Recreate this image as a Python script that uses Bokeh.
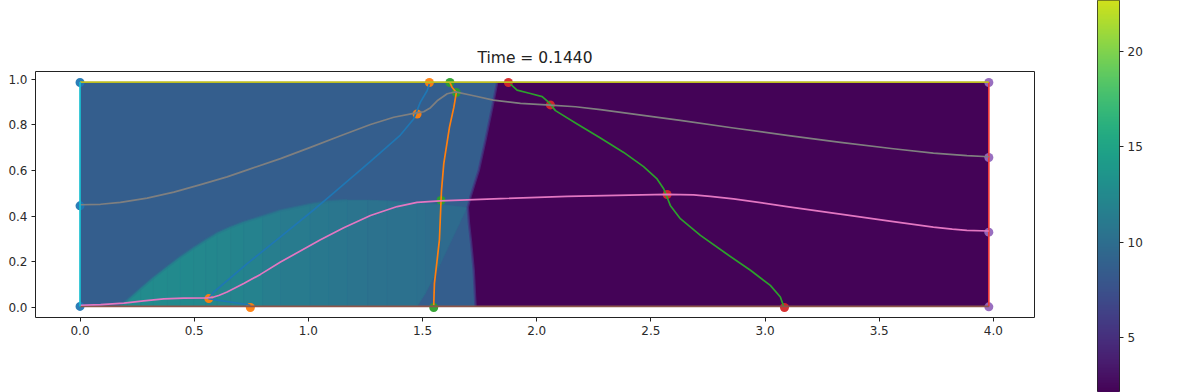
from bokeh.embed import file_html
from bokeh.resources import INLINE
from bokeh.plotting import figure
from bokeh.layouts import row, column
from bokeh.models import FixedTicker, LinearColorMapper, Range1d
from bokeh.palettes import Viridis256
import numpy as np

# ---- data ----
title_text = "Time = 0.1440"
x_ticks = [0.0, 0.5, 1.0, 1.5, 2.0, 2.5, 3.0, 3.5, 4.0]
y_ticks = [0.0, 0.2, 0.4, 0.6, 0.8, 1.0]
cb_ticks = [5, 10, 15, 20]
v_min, v_max = 2.0, 24.2

# field regions
dom_x = [0.0, 3.98]
dom_y = [0.005, 0.987]
field_blue = 8.7
purple_x = [1.827, 1.805, 1.775, 1.746, 1.724, 1.71, 1.698, 1.703, 1.712, 1.724, 1.732, 3.98, 3.98]
purple_y = [0.987, 0.876, 0.731, 0.60, 0.53, 0.485, 0.439, 0.37, 0.29, 0.163, 0.005, 0.005, 0.987]
field_purple = 2.2
hump_x = [0.177, 0.207, 0.265, 0.32, 0.382, 0.44, 0.498, 0.55, 0.601, 0.66, 0.717, 0.80, 0.878, 1.009, 1.09, 1.17, 1.26, 1.345, 1.476, 1.513, 1.578, 1.695]
hump_top = [0.010, 0.032, 0.083, 0.13, 0.178, 0.222, 0.262, 0.295, 0.326, 0.352, 0.374, 0.40, 0.425, 0.452, 0.465, 0.47, 0.47, 0.467, 0.458, 0.455, 0.452, 0.438]
hump_bot = [0.005, 0.005, 0.005, 0.005, 0.005, 0.005, 0.005, 0.005, 0.005, 0.005, 0.005, 0.005, 0.005, 0.005, 0.005, 0.005, 0.005, 0.005, 0.005, 0.062, 0.19, 0.438]
hump_val = [12.8, 12.8, 12.75, 12.7, 12.6, 12.5, 12.4, 12.3, 12.2, 12.0, 11.8, 11.5, 11.2, 10.9, 10.7, 10.5, 10.4, 10.3, 10.2, 10.0, 9.8]

# contour lines
blue_x = [0.746, 0.673, 0.601, 0.564, 0.586, 0.732, 0.863, 1.024, 1.097, 1.272, 1.403, 1.461, 1.49, 1.52, 1.53]
blue_y = [0.01, 0.022, 0.032, 0.039, 0.068, 0.192, 0.297, 0.428, 0.49, 0.64, 0.755, 0.825, 0.898, 0.949, 0.978]
orange_x = [1.549, 1.552, 1.563, 1.574, 1.581, 1.583, 1.593, 1.618, 1.637, 1.648, 1.63, 1.62]
orange_y = [0.01, 0.106, 0.2, 0.297, 0.469, 0.512, 0.63, 0.79, 0.876, 0.941, 0.963, 0.985]
green_x = [3.081, 3.067, 3.023, 2.936, 2.834, 2.717, 2.629, 2.585, 2.571, 2.556, 2.527, 2.468, 2.381, 2.279, 2.177, 2.082, 2.053, 2.024, 1.972, 1.914, 1.885]
green_y = [0.006, 0.046, 0.097, 0.163, 0.233, 0.316, 0.389, 0.447, 0.483, 0.52, 0.563, 0.617, 0.679, 0.742, 0.803, 0.862, 0.898, 0.923, 0.937, 0.952, 0.978]
pink_x = [0.0, 0.09, 0.192, 0.279, 0.367, 0.454, 0.557, 0.579, 0.61, 0.644, 0.717, 0.790, 0.878, 1.053, 1.155, 1.272, 1.389, 1.476, 1.578, 1.841, 2.133, 2.35, 2.571, 2.687, 2.76, 2.862, 3.096, 3.33, 3.562, 3.737, 3.82, 3.884, 3.98]
pink_y = [0.010, 0.013, 0.019, 0.029, 0.038, 0.041, 0.042, 0.044, 0.054, 0.068, 0.105, 0.145, 0.199, 0.297, 0.349, 0.403, 0.442, 0.460, 0.467, 0.477, 0.487, 0.491, 0.495, 0.493, 0.487, 0.476, 0.442, 0.409, 0.376, 0.352, 0.343, 0.338, 0.335]
gray_x = [0.0, 0.09, 0.177, 0.294, 0.411, 0.528, 0.644, 0.746, 0.878, 1.009, 1.141, 1.272, 1.374, 1.461, 1.505, 1.535, 1.564, 1.608, 1.644, 1.724, 1.81, 1.929, 2.06, 2.17, 2.279, 2.425, 2.629, 2.862, 3.096, 3.33, 3.562, 3.737, 3.884, 3.98]
gray_y = [0.450, 0.452, 0.460, 0.479, 0.505, 0.538, 0.572, 0.607, 0.652, 0.701, 0.752, 0.801, 0.833, 0.850, 0.857, 0.875, 0.905, 0.936, 0.944, 0.927, 0.908, 0.894, 0.886, 0.879, 0.866, 0.847, 0.819, 0.786, 0.754, 0.723, 0.695, 0.676, 0.665, 0.660]

# markers
m0_x, m0_y = [0.0, 0.0, 0.0], [0.005, 0.445, 0.985]
m1_x, m1_y = [0.746, 0.564, 1.476, 1.53], [0.0, 0.039, 0.847, 0.985]
m2_x, m2_y = [1.549, 1.581, 1.648, 1.62], [0.0, 0.469, 0.941, 0.985]
m3_x, m3_y = [3.085, 2.571, 2.06, 1.876], [0.0, 0.495, 0.887, 0.985]
m4_x, m4_y = [3.98, 3.98, 3.98, 3.98], [0.003, 0.33, 0.657, 0.985]

C = ["#1f77b4", "#ff7f0e", "#2ca02c", "#d62728", "#9467bd", "#8c564b", "#e377c2", "#7f7f7f", "#bcbd22", "#17becf"]

mapper = LinearColorMapper(palette=Viridis256, low=v_min, high=v_max)

def shade(v):
    return Viridis256[int((v - v_min) / (v_max - v_min) * 255)]

p = figure(width=1096, height=392, output_backend="svg", toolbar_location=None,
           x_range=Range1d(-0.195, 4.18), y_range=Range1d(-0.0437, 1.0333),
           min_border_left=35, min_border_right=62, min_border_top=71, min_border_bottom=75)
p.title.text = title_text
p.title.align = "center"
p.title.text_font = "DejaVu Sans"
p.title.text_font_size = "15.5px"
p.title.text_font_style = "normal"
p.title.text_color = "#222222"
p.grid.visible = False
p.outline_line_color = "#222222"
p.outline_line_width = 1

def style_axis(ax, ticks):
    ax.ticker = FixedTicker(ticks=ticks)
    ax.axis_line_color = None
    ax.major_tick_line_color = "#222222"
    ax.major_tick_in = 0
    ax.major_tick_out = 4
    ax.minor_tick_line_color = None
    ax.major_label_text_font = "DejaVu Sans"
    ax.major_label_text_font_size = "12px"
    ax.major_label_text_color = "#2a2a2a"
    ax.major_label_standoff = 4

style_axis(p.xaxis[0], x_ticks)
style_axis(p.yaxis[0], y_ticks)
p.xaxis[0].major_label_overrides = {t: f"{t:.1f}" for t in x_ticks}
p.yaxis[0].major_label_overrides = {t: f"{t:.1f}" for t in y_ticks}

# field
p.quad(left=dom_x[0], right=dom_x[1], bottom=dom_y[0], top=dom_y[1], color=shade(field_blue), line_color=None)

hx, hy, hv = [], [], []
for i, v in enumerate(hump_val):
    hx.append([hump_x[i], hump_x[i + 1], hump_x[i + 1], hump_x[i]])
    hy.append([hump_bot[i], hump_bot[i + 1], hump_top[i + 1], hump_top[i]])
    hv.append(v)
p.patches(xs="xs", ys="ys", fill_color={"field": "v", "transform": mapper},
          line_color={"field": "v", "transform": mapper},
          line_width=0.5, source=dict(xs=hx, ys=hy, v=hv))
# soft rim of the hump, like the blurred edge of the picture
p.line(hump_x[:16], hump_top[:16], line_color=shade(10.5), line_width=3, line_alpha=0.45)
p.patch(purple_x, purple_y, fill_color=shade(field_purple), line_color=None)
# soft rim of the purple zone
p.line(purple_x[:11], purple_y[:11], line_color=shade(5.5), line_width=2.5, line_alpha=0.7)

# markers
for i, (mx, my) in enumerate(((m0_x, m0_y), (m1_x, m1_y), (m2_x, m2_y), (m3_x, m3_y), (m4_x, m4_y))):
    p.scatter(mx, my, size=9, fill_color=C[i], line_color=None, fill_alpha=0.95)

# lines
lw = 1.7
red_edge = "#ee3b3b"
for lx, ly, col in ((blue_x, blue_y, C[0]), (orange_x, orange_y, C[1]), (green_x, green_y, C[2]),
                    ([dom_x[1], dom_x[1]], dom_y, red_edge), (dom_x, [dom_y[0], dom_y[0]], C[5]),
                    (pink_x, pink_y, C[6]), (gray_x, gray_y, C[7]),
                    (dom_x, [dom_y[1], dom_y[1]], C[8]), ([dom_x[0], dom_x[0]], dom_y, C[9])):
    p.line(lx, ly, line_color=col, line_width=lw, line_join="round")

# colour bar drawn as its own frame, cut off by the page as in the picture
cb = figure(width=100, height=392, output_backend="svg", toolbar_location=None,
            x_range=Range1d(0, 1), y_range=Range1d(2.14, 22.65),
            x_axis_location=None, y_axis_location="right",
            min_border_left=1, min_border_right=77, min_border_top=0, min_border_bottom=0)
cb.grid.visible = False
cb.outline_line_color = "#222222"
levels = np.linspace(v_min, v_max, 512).reshape(-1, 1)
cb.image(image=[levels], x=0, y=v_min, dw=1, dh=v_max - v_min, color_mapper=mapper)
style_axis(cb.yaxis[0], cb_ticks)

layout = row(p, column(cb))
open("out.html", "w").write(file_html(layout, INLINE))
